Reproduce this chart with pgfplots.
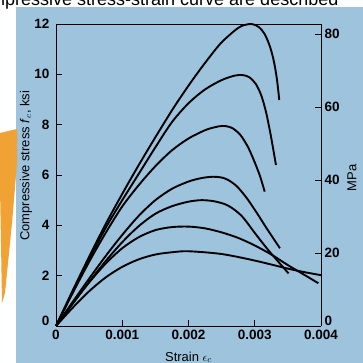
\documentclass[border=0pt]{standalone}
\usepackage{pgfplots}
\pgfplotsset{compat=1.18}
\usepackage{fontspec}
\setmainfont{Liberation Sans}
\definecolor{bgblue}{RGB}{157,195,221}
\definecolor{bgorange}{RGB}{240,162,52}
\begin{document}
\begin{tikzpicture}[x=1pt,y=1pt]
\useasboundingbox (0,0) rectangle (363,363);
\clip (0,0) rectangle (363,363);
\fill[white] (0,0) rectangle (363,363);
\node[anchor=base west,font=\fontsize{18}{18}\selectfont,inner sep=0pt] at (-29,357) {compressive stress-strain curve are described};
\fill[bgblue] (16,0) rectangle (363,356);
\fill[bgorange] (0,230) -- (17,234) -- (17,200) -- (12,140) -- (5,70) -- (2,60) -- (1,120) -- (0,175) -- cycle;
\begin{axis}[
  at={(56pt,37pt)}, anchor=south west,
  scale only axis, width=265pt, height=302pt,
  xmin=0, xmax=0.004, ymin=0, ymax=12,
  axis y line*=left, axis x line*=bottom,
  axis line style={black, line width=0.8pt},
  xtick={0,0.001,0.002,0.003,0.004},
  xticklabels={0,0.001,0.002,0.003,0.004},
  ytick={2,4,6,8,10,12},
  extra y ticks={0},
  extra y tick style={yticklabel style={yshift=5pt}},
  tick align=inside, major tick length=6pt,
  tick style={black, line width=0.8pt},
  scaled x ticks=false,
  /pgf/number format/assume math mode=true,
  ticklabel style={font=\bfseries\fontsize{13.5}{13.5}\selectfont},
  yticklabel style={xshift=-3pt},
  xticklabel style={yshift=-1pt},
  xlabel={Strain $\epsilon_c$},
  xlabel style={at={(axis description cs:0.5,0)}, anchor=base, yshift=-35pt, font=\fontsize{13}{13}\selectfont},
  ylabel={Compressive stress \textit{f}$_c$, ksi},
  ylabel style={at={(axis description cs:-0.113,0.53)}, anchor=center, font=\fontsize{13}{13}\selectfont},
  clip=false,
  curve/.style={black, line width=1.9pt, smooth, no marks},
]
\draw[black, line width=0.8pt] (axis cs:0,12) -- (axis cs:0.004,12);
% 12 ksi
\addplot[curve] coordinates {(0,0)(0.00025,1.4)(0.0005,2.75)(0.00075,4.05)(0.001,5.25)(0.00125,6.4)(0.0015,7.5)(0.00177,8.65)(0.002,9.55)(0.00222,10.35)(0.002475,11.2)(0.00268,11.7)(0.0028,11.92)(0.00295,12.0)(0.00306,11.88)(0.00315,11.6)(0.00323,11.1)(0.00329,10.5)(0.003335,9.8)(0.00337,8.98)};
% 10 ksi
\addplot[curve] coordinates {(0,0)(0.00025,1.35)(0.0005,2.65)(0.00075,3.9)(0.001,5.0)(0.00125,6.05)(0.0015,7.1)(0.00175,8.1)(0.002,8.85)(0.00225,9.4)(0.0025,9.77)(0.0027,9.95)(0.00282,9.97)(0.00292,9.88)(0.00302,9.6)(0.0031,9.15)(0.00317,8.5)(0.00324,7.6)(0.00332,6.4)};
% 8 ksi
\addplot[curve] coordinates {(0,0)(0.00025,1.3)(0.0005,2.55)(0.00075,3.7)(0.001,4.75)(0.00125,5.6)(0.0015,6.35)(0.00175,6.98)(0.002,7.45)(0.00225,7.78)(0.0024,7.9)(0.00252,7.95)(0.00265,7.88)(0.00278,7.6)(0.0029,7.1)(0.003,6.5)(0.00308,5.95)(0.00315,5.34)};
% 6 ksi
\addplot[curve] coordinates {(0,0)(0.00025,0.95)(0.0005,1.88)(0.00075,2.78)(0.001,3.62)(0.00125,4.38)(0.0015,5.0)(0.00175,5.45)(0.002,5.74)(0.0022,5.88)(0.00237,5.93)(0.0025,5.9)(0.0026,5.8)(0.00273,5.55)(0.00288,5.08)(0.00303,4.5)(0.00318,3.88)(0.00338,3.09)};
% 5 ksi
\addplot[curve] coordinates {(0,0)(0.00025,0.88)(0.0005,1.75)(0.00075,2.58)(0.001,3.33)(0.00125,3.97)(0.0015,4.46)(0.00175,4.76)(0.002,4.94)(0.0022,5.0)(0.0024,4.95)(0.0026,4.78)(0.0028,4.38)(0.003,3.7)(0.0032,3.03)(0.00351,2.09)};
% 4 ksi
\addplot[curve] coordinates {(0,0)(0.00025,0.89)(0.0005,1.73)(0.00075,2.48)(0.001,3.09)(0.00125,3.53)(0.0015,3.81)(0.00175,3.93)(0.002,3.95)(0.00225,3.88)(0.0025,3.72)(0.00275,3.5)(0.003,3.2)(0.00325,2.84)(0.0035,2.42)(0.00375,2.03)(0.00396,1.70)};
% 3 ksi
\addplot[curve] coordinates {(0,0)(0.00025,0.72)(0.0005,1.38)(0.00075,1.93)(0.001,2.35)(0.00125,2.65)(0.0015,2.84)(0.00175,2.93)(0.002,2.97)(0.0025,2.86)(0.003,2.6)(0.0035,2.28)(0.00375,2.14)(0.004,2.02)};
\end{axis}
\begin{axis}[
  at={(56pt,37pt)}, anchor=south west,
  scale only axis, width=265pt, height=302pt,
  xmin=0, xmax=0.004, ymin=0, ymax=82.737,
  axis y line*=right, hide x axis,
  axis line style={black, line width=0.8pt},
  ytick={20,40,60,80},
  extra y ticks={0},
  extra y tick style={yticklabel style={yshift=5pt}},
  tick align=inside, major tick length=6pt,
  tick style={black, line width=0.8pt},
  /pgf/number format/assume math mode=true,
  ticklabel style={font=\bfseries\fontsize{13.5}{13.5}\selectfont},
  ylabel={MPa},
  ylabel style={at={(axis description cs:1.117,0.49)}, anchor=center, font=\fontsize{13}{13}\selectfont},
]
\addplot[draw=none] coordinates {(0,0)};
\end{axis}
\end{tikzpicture}
\end{document}
